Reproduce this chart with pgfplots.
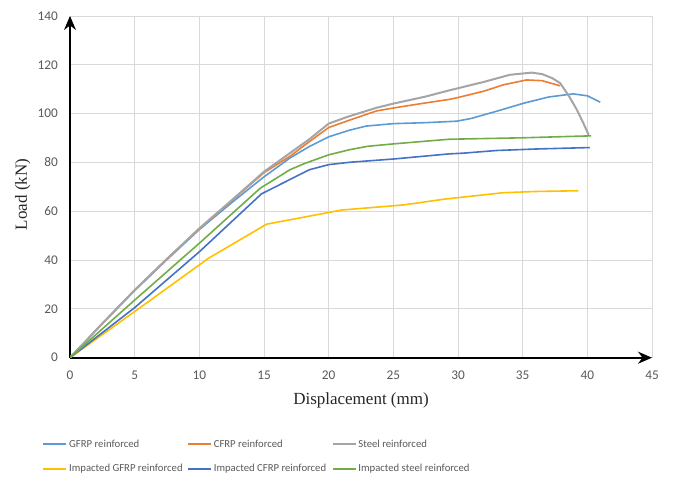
\documentclass[border=0pt]{standalone}
\usepackage{pgfplots}
\pgfplotsset{compat=1.18}
\usepackage{fontspec}
\setmainfont{Liberation Serif}
\newfontfamily\carlito{Carlito}
\usetikzlibrary{arrows.meta}

\definecolor{gfrp}{HTML}{5B9BD5}
\definecolor{cfrp}{HTML}{ED7D31}
\definecolor{steel}{HTML}{A5A5A5}
\definecolor{igfrp}{HTML}{FFC000}
\definecolor{icfrp}{HTML}{4472C4}
\definecolor{isteel}{HTML}{70AD47}
\definecolor{gridc}{HTML}{D9D9D9}
\definecolor{txt}{HTML}{595959}

% fixed-width legend text so the three columns are evenly spaced
\newcommand{\entry}[1]{\makebox[116bp][l]{\carlito\fontsize{10.7bp}{12bp}\selectfont\textcolor{txt}{#1}}}

\begin{document}
\begin{tikzpicture}
\useasboundingbox (0,0) rectangle (673bp,479bp);
\begin{axis}[
  at={(70bp,121.3bp)}, anchor=south west,
  scale only axis, width=582bp, height=341.7bp,
  xmin=0, xmax=45, ymin=0, ymax=140,
  xtick={0,5,...,45}, ytick={0,20,...,140},
  axis lines*=left,
  axis line style={line width=1.6bp, black, -{Stealth[length=14bp,width=12bp]}},
  grid=major,
  major grid style={gridc, line width=0.9bp},
  major tick length=0pt,
  /pgf/number format/assume math mode=true,
  ticklabel style={font=\carlito\fontsize{13.3bp}{15bp}\selectfont, text=txt},
  xticklabel style={yshift=-10bp},
  yticklabel style={xshift=-8.7bp},
  xlabel={Displacement (mm)},
  ylabel={Load (kN)},
  label style={font=\fontsize{17bp}{20bp}\selectfont, text=black!85},
  xlabel style={at={(axis description cs:0.5,-0.1384)}, anchor=base},
  ylabel style={at={(axis description cs:-0.0739,0.478)}, anchor=base},
  legend columns=3,
  legend cell align=left,
  legend image code/.code={%
    \draw[#1, line width=1.6bp] (0bp,0bp) -- (23bp,0bp);},
  legend style={
    at={(axis description cs:-0.0525,-0.2892)}, anchor=west,
    draw=none, fill=none,
    row sep=12bp, column sep=0pt,
  },
  every axis plot/.append style={line width=1.6bp, line join=round},
]
\addplot[gfrp] coordinates {
 (0,0) (2.5,14) (5,27.5) (7.5,40.2) (10,52.5) (12.5,63.5) (14.9,73.7)
 (17,81.8) (18.5,86.5) (20,90.5) (21.6,93.2) (22.9,94.9) (25,95.9)
 (27.5,96.3) (29.9,96.9) (31,98) (33,101) (35.1,104.3) (37,106.8)
 (38.9,108.1) (40,107.3) (41,104.7)
};
\addlegendentry{\entry{GFRP reinforced}}
\addplot[cfrp] coordinates {
 (0,0) (2.5,14) (5,27.7) (7.5,40.5) (10,52.8) (12.5,64.3) (15,75.8)
 (17,82.5) (18.5,88.5) (20,94.3) (21.6,97.3) (23.7,101.1) (25,102.3)
 (27.5,104.4) (29.3,105.8) (30,106.6) (32,109.2) (33.5,111.8)
 (35.3,113.8) (36.5,113.5) (37.9,111.4)
};
\addlegendentry{\entry{CFRP reinforced}}
\addplot[steel, line width=2bp] coordinates {
 (0,0) (2.5,14) (5,27.7) (7.5,40.5) (10,53) (12.5,64.5) (15,76.2)
 (17,83.8) (18.5,89.5) (20,95.9) (21.4,98.6) (23.7,102.4) (25,104.1)
 (27.5,107) (29.3,109.5) (30,110.4) (32,113) (34,115.9) (35.7,116.8)
 (36.5,116.2) (37.3,114.5) (37.9,112.5) (38.6,107) (39.2,101.5)
 (39.7,96) (40.1,91.3)
};
\addlegendentry{\entry{Steel reinforced}}
\addplot[igfrp] coordinates {
 (0,0) (5,18.9) (10.7,40.7) (15.2,54.7) (19.3,58.8) (21,60.5)
 (25.8,62.6) (29,65) (33.5,67.6) (36,68.1) (39.3,68.4)
};
\addlegendentry{\entry{Impacted GFRP reinforced}}
\addplot[icfrp] coordinates {
 (0,0) (5,20.5) (10,43.4) (14.8,67.1) (17,73) (18.5,77) (20,79.1)
 (21.7,80.1) (25,81.4) (29.3,83.5) (30.4,83.8) (33,84.9) (36,85.5)
 (40.2,86.1)
};
\addlegendentry{\entry{Impacted CFRP reinforced}}
\addplot[isteel] coordinates {
 (0,0) (5,23.6) (10,46.9) (14.7,69.4) (17,77) (18.2,79.7) (20,83.1)
 (21.6,85.2) (23,86.6) (25,87.6) (29.3,89.5) (35,90.1) (40.3,90.9)
};
\addlegendentry{\entry{Impacted steel reinforced}}
\end{axis}
\end{tikzpicture}
\end{document}
